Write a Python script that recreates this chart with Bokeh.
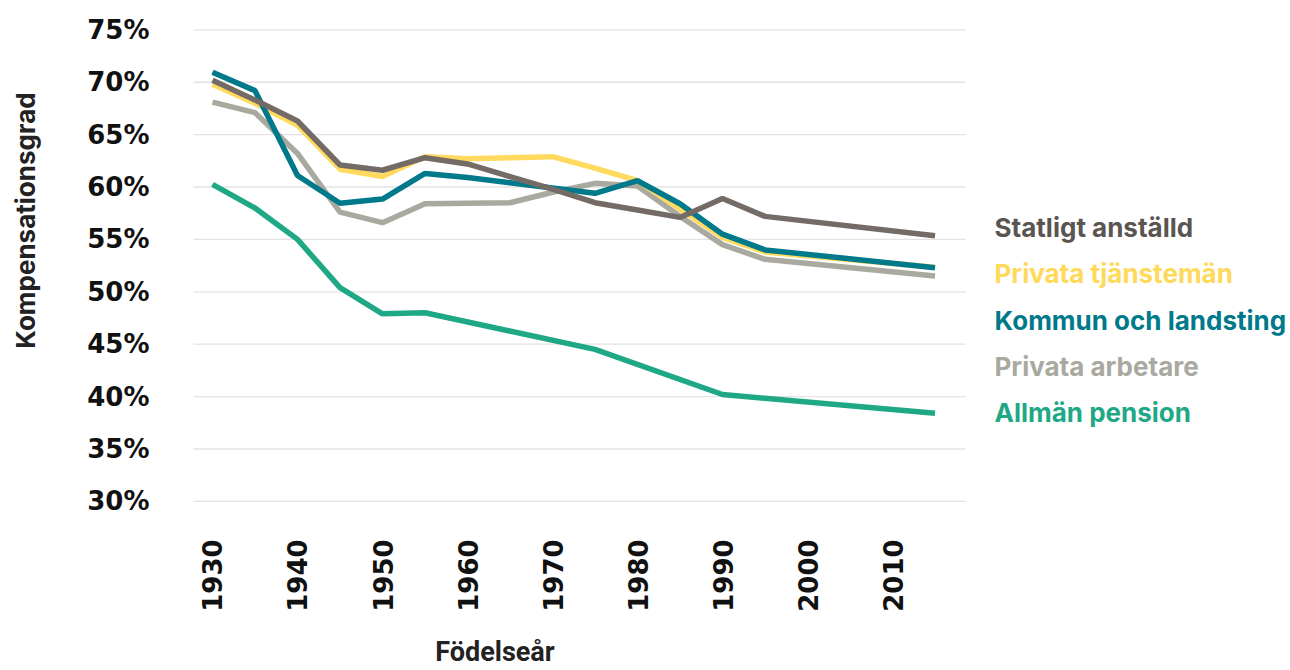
import math
from bokeh.plotting import figure
from bokeh.models import FixedTicker, PrintfTickFormatter, Range1d, ColumnDataSource
from bokeh.core.properties import value
from bokeh.embed import file_html
from bokeh.resources import INLINE

# ---- data ----
years = [1930, 1935, 1940, 1945, 1950, 1955, 1960, 1965, 1970, 1975, 1980, 1985, 1990, 1995, 2015]
statligt = [70.2, 68.3, 66.3, 62.1, 61.6, 62.8, 62.2, 61.0, 59.8, 58.5, 57.8, 57.1, 58.9, 57.2, 55.35]
privata_tj = [69.8, 68.0, 65.9, 61.7, 61.0, 62.9, 62.7, 62.8, 62.9, 61.8, 60.6, 57.9, 55.2, 53.8, 52.35]
kommun = [70.95, 69.2, 61.1, 58.45, 58.85, 61.3, 60.9, 60.4, 59.9, 59.4, 60.6, 58.4, 55.5, 54.0, 52.3]
privata_arb = [68.1, 67.1, 63.2, 57.6, 56.6, 58.4, 58.45, 58.5, 59.5, 60.35, 60.1, 57.2, 54.5, 53.1, 51.5]
pension_years = [1930, 1935, 1940, 1945, 1950, 1955, 1975, 1990, 2015]
allman = [60.25, 58.0, 55.0, 50.4, 47.9, 48.0, 44.5, 40.2, 38.4]

x_ticks = [1930, 1940, 1950, 1960, 1970, 1980, 1990, 2000, 2010]
y_ticks = [30, 35, 40, 45, 50, 55, 60, 65, 70, 75]

legend_names = ["Statligt anställd", "Privata tjänstemän", "Kommun och landsting",
                "Privata arbetare", "Allmän pension"]
line_colors = ["#756b66", "#ffda5e", "#00798a", "#a9a99f", "#1fa886"]
text_colors = ["#5a5551", "#ffd95a", "#00798a", "#a9a99f", "#1fa886"]

y_title = "Kompensationsgrad"
x_title = "Födelseår"

TICK_FONT = "DejaVu Sans"
TEXT_FONT = "Inter"

# ---- layout constants (data-space extents of the whole canvas) ----
X_MIN, X_MAX = 1905.06, 2056.82          # whole canvas width
Y_MIN, Y_MAX = 13.86, 77.80              # whole canvas height
PLOT_X0, PLOT_X1 = 1927.76, 2018.6       # extent of the plotting area (grid)
PLOT_Y0 = 30                             # bottom of plotting area

p = figure(
    width=1290, height=670,
    min_border_left=0, min_border_right=0, min_border_top=0, min_border_bottom=0,
    x_range=Range1d(X_MIN, X_MAX), y_range=Range1d(Y_MIN, Y_MAX),
    output_backend="svg", toolbar_location=None,
)
p.outline_line_color = None
p.background_fill_color = "white"
p.border_fill_color = "white"

# grid (only across the plotting region)
p.xgrid.grid_line_color = None
p.ygrid.grid_line_color = None
p.segment(x0=[PLOT_X0] * len(y_ticks), x1=[PLOT_X1] * len(y_ticks),
          y0=y_ticks, y1=y_ticks, line_color="#e3e3e3", line_width=1.3)

# y axis, fixed at the left edge of the plotting area
p.yaxis.fixed_location = PLOT_X0
p.yaxis.ticker = FixedTicker(ticks=y_ticks)
p.yaxis.formatter = PrintfTickFormatter(format="%d%%")
p.yaxis.axis_line_color = None
p.yaxis.major_tick_line_color = None
p.yaxis.minor_tick_line_color = None
p.yaxis.major_tick_out = 0
p.yaxis.major_tick_in = 0
p.yaxis.major_label_standoff = 44
p.yaxis.major_label_text_font = TICK_FONT
p.yaxis.major_label_text_font_style = "bold"
p.yaxis.major_label_text_font_size = "26px"
p.yaxis.major_label_text_color = "#111111"

# x axis, fixed at the bottom of the plotting area
p.xaxis.fixed_location = PLOT_Y0
p.xaxis.ticker = FixedTicker(ticks=x_ticks)
p.xaxis.axis_line_color = None
p.xaxis.major_tick_line_color = None
p.xaxis.minor_tick_line_color = None
p.xaxis.major_tick_out = 0
p.xaxis.major_tick_in = 0
p.xaxis.major_label_orientation = math.pi / 2
p.xaxis.major_label_standoff = 38
p.xaxis.major_label_text_font = TICK_FONT
p.xaxis.major_label_text_font_style = "bold"
p.xaxis.major_label_text_font_size = "26px"
p.xaxis.major_label_text_color = "#111111"

# lines (bottom to top drawing order)
series = [
    (pension_years, allman, line_colors[4]),
    (years, privata_arb, line_colors[3]),
    (years, privata_tj, line_colors[1]),
    (years, kommun, line_colors[2]),
    (years, statligt, line_colors[0]),
]
for xs, ys, c in series:
    p.line(xs, ys, line_color=c, line_width=5.5)

# legend as coloured texts
legend_x = 2022.0
legend_top = 56.1
legend_step = 4.4
legend_src = ColumnDataSource(dict(
    x=[legend_x] * len(legend_names),
    y=[legend_top - i * legend_step for i in range(len(legend_names))],
    text=legend_names,
    color=text_colors,
))
p.text(x="x", y="y", text="text", text_color="color", source=legend_src,
       text_font=value(TEXT_FONT), text_font_style="bold",
       text_font_size=value("26px"), text_baseline="middle", text_align="left")

# axis titles
p.text(x=[1908.0], y=[56.8], text=[y_title], angle=math.pi / 2,
       text_color="#222222", text_font=value(TEXT_FONT), text_font_style="bold",
       text_font_size=value("26px"), text_baseline="middle", text_align="center")
p.text(x=[1956.2], y=[15.6], text=[x_title],
       text_color="#222222", text_font=value("Roboto"), text_font_style="bold",
       text_font_size=value("27px"), text_baseline="middle", text_align="left")

open("out.html", "w").write(file_html(p, INLINE))
